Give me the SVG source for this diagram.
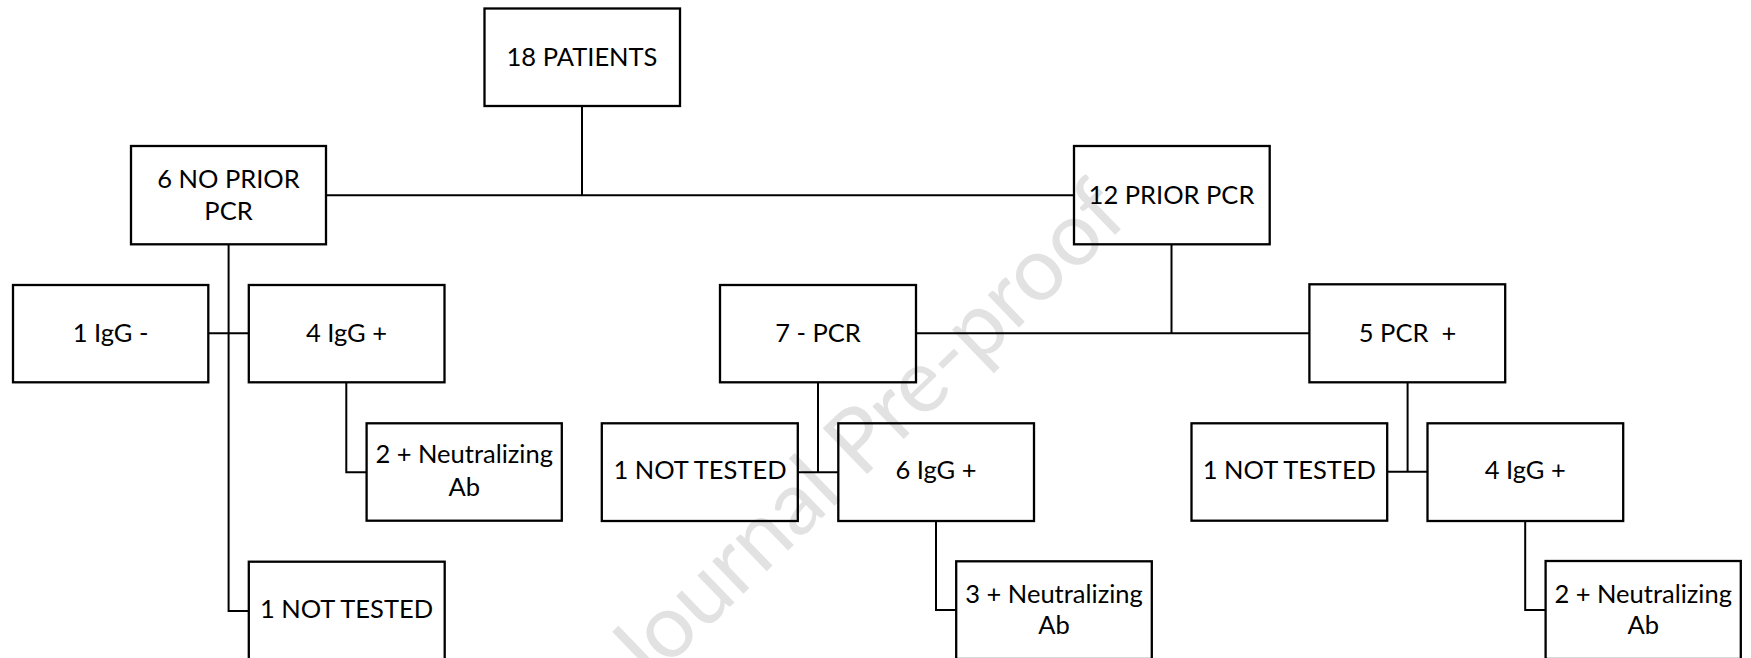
<svg xmlns="http://www.w3.org/2000/svg" width="1751" height="658" viewBox="0 0 1751 658">
<style>
  .box { fill: none; stroke: #000; stroke-width: 2.3; }
  .lbl { font-family: Lato, "Open Sans", sans-serif; font-size: 25.5px; fill: #000; text-anchor: middle; white-space: pre; }
  .wm { font-family: Lato, "Open Sans", sans-serif; font-size: 89px; fill: #e2e2e2; text-anchor: middle; }
  #connectors path { fill: none; stroke: #000; stroke-width: 2; }
</style>
<rect x="0" y="0" width="1751" height="658" fill="#fff"/>
<text class="wm" transform="translate(886,456) rotate(-44)">Journal Pre-proof</text>
<g id="connectors">
  <path d="M582,106 V195.3"/>
  <path d="M326,195.3 H1074"/>
  <path d="M228.6,244.3 V611 H248.8"/>
  <path d="M208.3,333.3 H248.8"/>
  <path d="M1171.5,244.3 V333.3"/>
  <path d="M916,333.3 H1309.4"/>
  <path d="M346.3,382.3 V472.3 H366.6"/>
  <path d="M818,382.3 V472.3"/>
  <path d="M797.8,472.3 H838.3"/>
  <path d="M936,521 V610 H956.2"/>
  <path d="M1407.6,382.3 V471.7"/>
  <path d="M1387.2,471.7 H1427.5"/>
  <path d="M1525.2,521 V610 H1545.6"/>
</g>
<g id="n18">
  <rect class="box" x="484.5" y="8.5" width="195.5" height="97.5"/>
  <text class="lbl" x="582" y="65.5">18 PATIENTS</text>
</g>
<g id="noPrior">
  <rect class="box" x="131" y="146" width="195" height="98.3"/>
  <text class="lbl" x="228.5" y="188.3">6 NO PRIOR</text>
  <text class="lbl" x="228.5" y="220">PCR</text>
</g>
<g id="prior">
  <rect class="box" x="1074" y="146" width="195.7" height="98.3"/>
  <text class="lbl" x="1171.5" y="204">12 PRIOR PCR</text>
</g>
<g id="iggNeg">
  <rect class="box" x="13" y="285" width="195.3" height="97.3"/>
  <text class="lbl" x="110.6" y="341.7">1 IgG -</text>
</g>
<g id="iggPos1">
  <rect class="box" x="248.8" y="285" width="195.7" height="97.3"/>
  <text class="lbl" x="346.5" y="341.7">4 IgG +</text>
</g>
<g id="neut1">
  <rect class="box" x="366.6" y="423.3" width="195.2" height="97.4"/>
  <text class="lbl" x="464.2" y="463.3">2 + Neutralizing</text>
  <text class="lbl" x="464.2" y="495.7">Ab</text>
</g>
<g id="nt1">
  <rect class="box" x="248.8" y="561.7" width="195.9" height="97.5"/>
  <text class="lbl" x="346.5" y="618.3">1 NOT TESTED</text>
</g>
<g id="pcrNeg">
  <rect class="box" x="720" y="285" width="196" height="97.3"/>
  <text class="lbl" x="818" y="341.7">7 - PCR</text>
</g>
<g id="nt2">
  <rect class="box" x="601.8" y="423.3" width="196" height="97.7"/>
  <text class="lbl" x="700" y="479.3">1 NOT TESTED</text>
</g>
<g id="iggPos2">
  <rect class="box" x="838.3" y="423.3" width="195.7" height="97.7"/>
  <text class="lbl" x="936" y="479.3">6 IgG +</text>
</g>
<g id="neut2">
  <rect class="box" x="956.2" y="561.3" width="195.6" height="97.7"/>
  <text class="lbl" x="1054" y="602.7">3 + Neutralizing</text>
  <text class="lbl" x="1054" y="634.3">Ab</text>
</g>
<g id="pcrPos">
  <rect class="box" x="1309.4" y="284.3" width="195.8" height="98"/>
  <text class="lbl" x="1407.5" y="342">5 PCR  +</text>
</g>
<g id="nt3">
  <rect class="box" x="1191.5" y="423.3" width="195.7" height="97.4"/>
  <text class="lbl" x="1289.4" y="479.3">1 NOT TESTED</text>
</g>
<g id="iggPos3">
  <rect class="box" x="1427.5" y="423.3" width="195.7" height="97.7"/>
  <text class="lbl" x="1525.3" y="479.3">4 IgG +</text>
</g>
<g id="neut3">
  <rect class="box" x="1545.6" y="561" width="195.2" height="98"/>
  <text class="lbl" x="1643.2" y="602.5">2 + Neutralizing</text>
  <text class="lbl" x="1643.2" y="634.3">Ab</text>
</g>
</svg>
